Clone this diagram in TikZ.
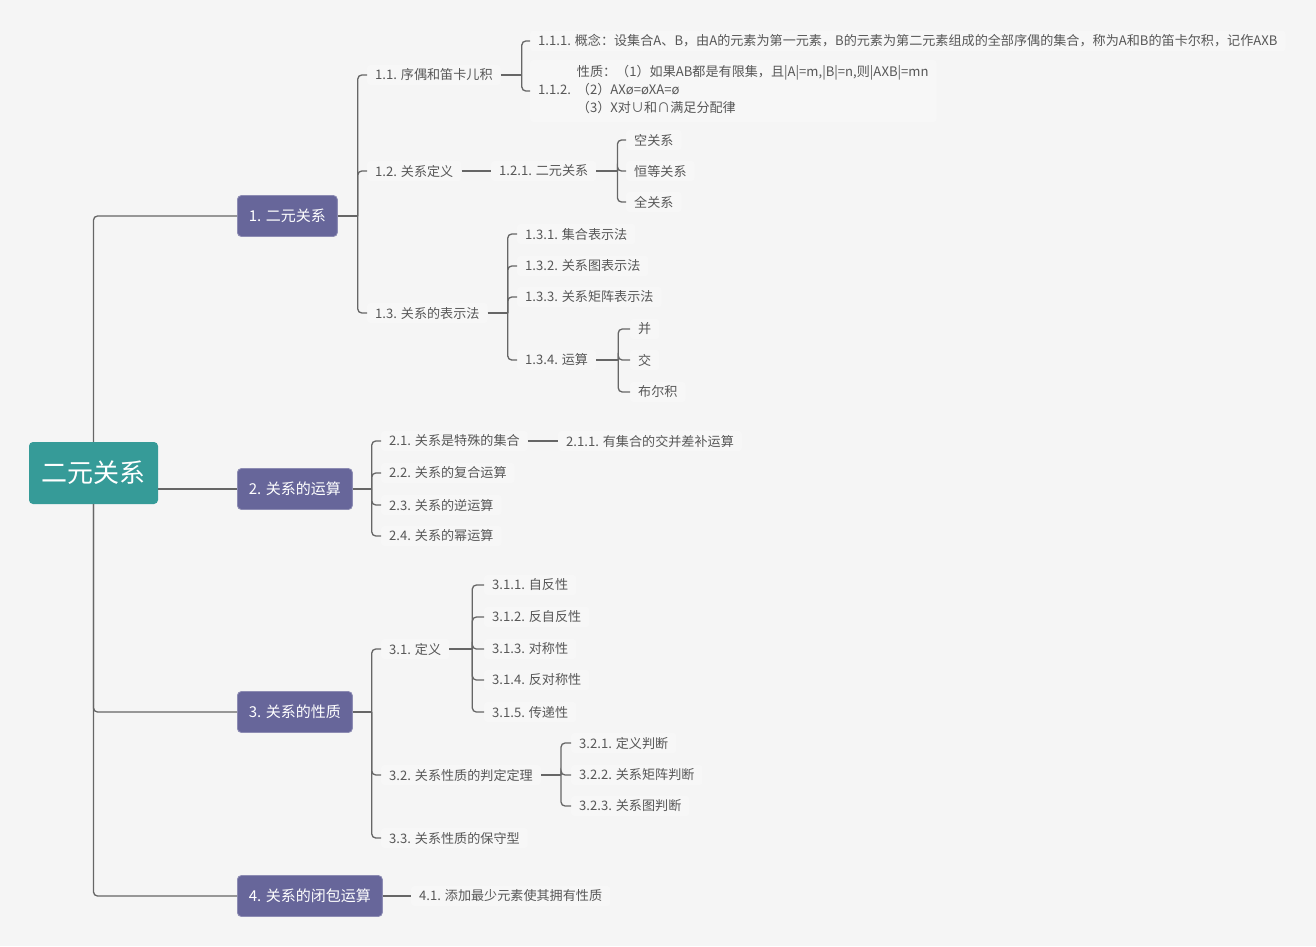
\documentclass[tikz,border=0pt]{standalone}
\usepackage{fontspec}
\setmainfont{Noto Sans CJK SC}
\definecolor{bgc}{HTML}{F5F5F5}
\definecolor{rootc}{HTML}{369B98}
\definecolor{mainc}{HTML}{67669A}
\definecolor{linec}{HTML}{666666}
\definecolor{textc}{HTML}{575757}
\definecolor{leafbg}{HTML}{F7F7F7}
\tikzset{
  conn/.style={draw=linec, line width=1.3pt, rounded corners=4pt},
  rootbox/.style={fill=rootc, text=white, font=\fontsize{26}{30}\selectfont, rounded corners=4pt, minimum width=129, minimum height=62, inner sep=0pt},
  mainbox/.style={anchor=west, fill=mainc, draw=mainc!75!white, line width=0.8pt, text=white, font=\fontsize{15}{18}\selectfont, rounded corners=4pt, minimum height=41, inner xsep=11.5pt, inner ysep=0pt},
  leaf/.style={anchor=west, text=textc, font=\fontsize{13.1}{18}\selectfont, inner xsep=8pt, inner ysep=4pt, fill=leafbg, rounded corners=3pt}
}
\begin{document}
\begin{tikzpicture}[x=1pt,y=-1pt]
\fill[bgc] (0,0) rectangle (1316,946);
\useasboundingbox (0,0) rectangle (1316,946);

% root and main topics
\node[rootbox] (r) at (93.5,473) {二元关系};
\node[mainbox] (m1) at (237,216) {1. 二元关系};
\node[mainbox] (m2) at (237,489) {2. 关系的运算};
\node[mainbox] (m3) at (237,712) {3. 关系的性质};
\node[mainbox] (m4) at (237,896) {4. 关系的闭包运算};

\draw[conn] (r.north) |- (m1.west);
\draw[conn] (r.east |- m2.west) -- (m2.west);
\draw[conn] (r.south) |- (m3.west);
\draw[conn] (r.south) |- (m4.west);

% ---- 1 ----
\node[leaf] (a11) at (367,75) {1.1. 序偶和笛卡儿积};
\node[leaf] (a12) at (367,171) {1.2. 关系定义};
\node[leaf] (a13) at (367,313) {1.3. 关系的表示法};
\coordinate (b1) at ([xshift=20pt]m1.east);
\draw[conn] (m1.east) -- (b1);
\foreach \c in {a11,a12,a13} \draw[conn] (b1) |- (\c.west);

\node[leaf] (a111) at (530,41) {1.1.1. 概念：设集合A、B，由A的元素为第一元素，B的元素为第二元素组成的全部序偶的集合，称为A和B的笛卡尔积，记作AXB};
\node[leaf] (a112) at (530,91) {1.1.2.\hspace{6pt}\begin{tabular}{@{}l@{}}性质：（1）如果AB都是有限集，且|A|=m,|B|=n,则|AXB|=mn\\（2）AXø=øXA=ø\\（3）X对∪和∩满足分配律\end{tabular}};
\coordinate (b11) at ([xshift=21pt]a11.east);
\draw[conn] (a11.east) -- (b11);
\foreach \c in {a111,a112} \draw[conn] (b11) |- (\c.west);

\node[leaf] (a121) at (491,171) {1.2.1. 二元关系};
\draw[conn] (a12.east) -- (a121.west);
\node[leaf] (k1) at (626,140) {空关系};
\node[leaf] (k2) at (626,171) {恒等关系};
\node[leaf] (k3) at (626,202) {全关系};
\coordinate (b121) at ([xshift=21pt]a121.east);
\draw[conn] (a121.east) -- (b121);
\foreach \c in {k1,k2,k3} \draw[conn] (b121) |- (\c.west);

\node[leaf] (a131) at (517,234) {1.3.1. 集合表示法};
\node[leaf] (a132) at (517,266) {1.3.2. 关系图表示法};
\node[leaf] (a133) at (517,297) {1.3.3. 关系矩阵表示法};
\node[leaf] (a134) at (517,360) {1.3.4. 运算};
\coordinate (b13) at ([xshift=20pt]a13.east);
\draw[conn] (a13.east) -- (b13);
\foreach \c in {a131,a132,a133,a134} \draw[conn] (b13) |- (\c.west);

\node[leaf] (o1) at (630,329) {并};
\node[leaf] (o2) at (630,360) {交};
\node[leaf] (o3) at (630,392) {布尔积};
\coordinate (b134) at ([xshift=22pt]a134.east);
\draw[conn] (a134.east) -- (b134);
\foreach \c in {o1,o2,o3} \draw[conn] (b134) |- (\c.west);

% ---- 2 ----
\node[leaf] (a21) at (381,441) {2.1. 关系是特殊的集合};
\node[leaf] (a22) at (381,473) {2.2. 关系的复合运算};
\node[leaf] (a23) at (381,505) {2.3. 关系的逆运算};
\node[leaf] (a24) at (381,536) {2.4. 关系的幂运算};
\coordinate (b2) at ([xshift=19pt]m2.east);
\draw[conn] (m2.east) -- (b2);
\foreach \c in {a21,a22,a23,a24} \draw[conn] (b2) |- (\c.west);
\node[leaf] (a211) at (558,441) {2.1.1. 有集合的交并差补运算};
\draw[conn] (a21.east) -- (a211.west);

% ---- 3 ----
\node[leaf] (a31) at (381,649) {3.1. 定义};
\node[leaf] (a32) at (381,775) {3.2. 关系性质的判定定理};
\node[leaf] (a33) at (381,838) {3.3. 关系性质的保守型};
\coordinate (b3) at ([xshift=19pt]m3.east);
\draw[conn] (m3.east) -- (b3);
\foreach \c in {a31,a32,a33} \draw[conn] (b3) |- (\c.west);

\node[leaf] (a311) at (484,585) {3.1.1. 自反性};
\node[leaf] (a312) at (484,617) {3.1.2. 反自反性};
\node[leaf] (a313) at (484,649) {3.1.3. 对称性};
\node[leaf] (a314) at (484,680) {3.1.4. 反对称性};
\node[leaf] (a315) at (484,712) {3.1.5. 传递性};
\coordinate (b31) at ([xshift=23pt]a31.east);
\draw[conn] (a31.east) -- (b31);
\foreach \c in {a311,a312,a313,a314,a315} \draw[conn] (b31) |- (\c.west);

\node[leaf] (a321) at (571,743) {3.2.1. 定义判断};
\node[leaf] (a322) at (571,775) {3.2.2. 关系矩阵判断};
\node[leaf] (a323) at (571,806) {3.2.3. 关系图判断};
\coordinate (b32) at ([xshift=20pt]a32.east);
\draw[conn] (a32.east) -- (b32);
\foreach \c in {a321,a322,a323} \draw[conn] (b32) |- (\c.west);

% ---- 4 ----
\node[leaf] (a41) at (411,896) {4.1. 添加最少元素使其拥有性质};
\draw[conn] (m4.east) -- (a41.west);
\end{tikzpicture}
\end{document}
